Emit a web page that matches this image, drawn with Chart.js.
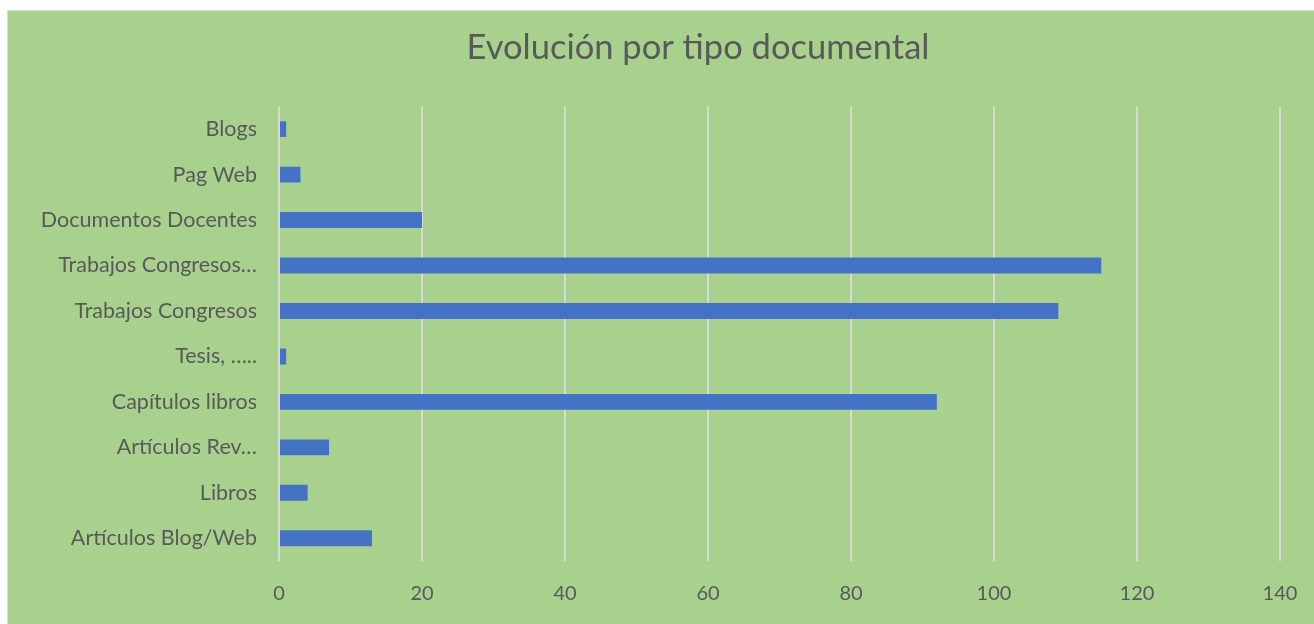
<!DOCTYPE html>
<html>
<head>
<meta charset="utf-8">
<script src="https://cdn.jsdelivr.net/npm/chart.js@4"></script>
<style>
  body { margin: 0; background: #fff; overflow: hidden; width: 1314px; height: 624px; }
  #box {
    position: absolute; left: 7px; top: 10px;
    width: 1380px; height: 620px;
    border: 1px solid #d9d9d9; background: #a9d18e;
  }
  #box canvas { display: block; }
</style>
</head>
<body>
<div id="box"><canvas id="myChart" width="1380" height="620"></canvas></div>
<script>
const categories = ['Blogs', 'Pag Web', 'Documentos Docentes', 'Trabajos Congresos…',
  'Trabajos Congresos', 'Tesis, …..', 'Capítulos libros', 'Artículos Rev…', 'Libros', 'Artículos Blog/Web'];
const values = [1, 3, 20, 115, 109, 1, 92, 7, 4, 13];
const xTicks = [0, 20, 40, 60, 80, 100, 120, 140];

const textColor = '#595959';

new Chart(document.getElementById('myChart'), {
  type: 'bar',
  data: {
    labels: categories,
    datasets: [{
      data: values,
      backgroundColor: '#4472c4',
      barPercentage: 0.35,
      categoryPercentage: 1
    }]
  },
  options: {
    indexAxis: 'y',
    responsive: false,
    animation: false,
    layout: { padding: { left: 0, right: 0, bottom: 4 } },
    plugins: {
      legend: { display: false },
      tooltip: { enabled: false },
      title: {
        display: true,
        text: 'Evolución por tipo documental',
        color: textColor,
        font: { family: 'Lato', size: 34.5, weight: 'normal' },
        padding: { top: 16, bottom: 38 }
      }
    },
    scales: {
      x: {
        min: xTicks[0],
        max: xTicks[xTicks.length - 1],
        afterBuildTicks: (scale) => { scale.ticks = xTicks.map(v => ({ value: v })); },
        grid: { color: '#d9d9d9', lineWidth: 2, drawTicks: false },
        border: { display: false },
        ticks: { color: textColor, padding: 21, font: { family: 'Lato', size: 20 } }
      },
      y: {
        grid: { display: false },
        border: { display: false },
        afterFit: (scale) => { scale.width = 271; },
        ticks: { color: textColor, padding: 14, font: { family: 'Lato', size: 21.5 } }
      },
      // empty right-hand space: the original chart box runs past the window edge
      spacer: {
        type: 'linear',
        position: 'right',
        display: true,
        grid: { display: false },
        border: { display: false },
        ticks: { display: false },
        afterFit: (scale) => { scale.width = 108; }
      }
    }
  }
});
</script>
</body>
</html>
